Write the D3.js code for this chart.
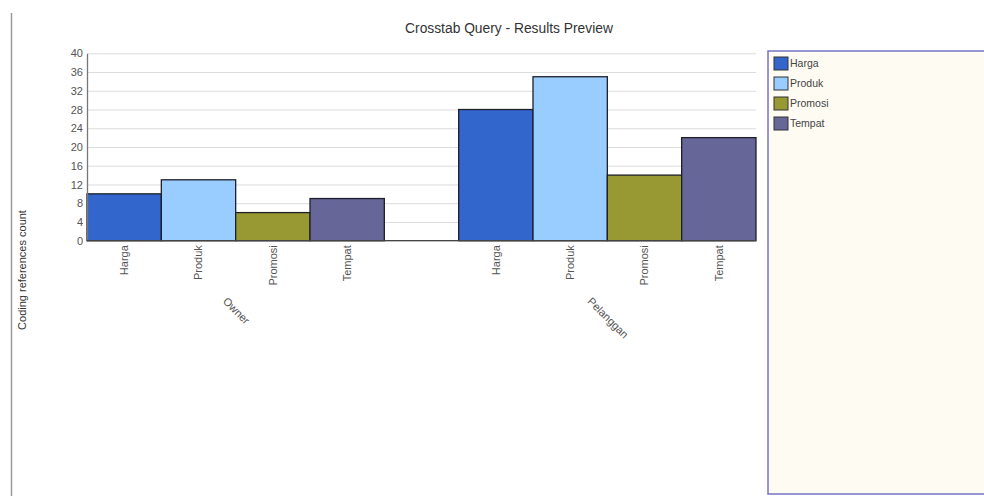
<!DOCTYPE html>
<html>
<head>
<meta charset="utf-8">
<script src="https://cdn.jsdelivr.net/npm/d3@7"></script>
<style>
  html, body { margin: 0; padding: 0; background: #fff; }
  svg { display: block; }
  text { font-family: "Liberation Sans", Arial, sans-serif; }
</style>
</head>
<body>
<svg id="chart" width="984" height="496"></svg>
<script>
// ---- data ----
const groups = ["Owner", "Pelanggan"];
const seriesNames = ["Harga", "Produk", "Promosi", "Tempat"];
const ownerValues = [10, 13, 6, 9];
const pelangganValues = [28, 35, 14, 22];
const yTicks = [0, 4, 8, 12, 16, 20, 24, 28, 32, 36, 40];
const seriesColors = ["#3366CC", "#99CCFF", "#999933", "#666699"];
const titleText = "Crosstab Query - Results Preview";
const yTitle = "Coding references count";

const valuesByGroup = { "Owner": ownerValues, "Pelanggan": pelangganValues };

// ---- layout ----
const svg = d3.select("#chart");
const W = 984, H = 496;
const plot = { left: 87, right: 756, top: 53.3, bottom: 240.7 };

const x0 = d3.scaleBand().domain(groups).range([plot.left, plot.right]).paddingInner(0.2).paddingOuter(0);
const x1 = d3.scaleBand().domain(seriesNames).range([0, x0.bandwidth()]).padding(0);
const y = d3.scaleLinear().domain([0, 40]).range([plot.bottom, plot.top]);
const color = d3.scaleOrdinal().domain(seriesNames).range(seriesColors);

// left frame line
svg.append("line")
  .attr("x1", 11.5).attr("x2", 11.5).attr("y1", 13).attr("y2", H)
  .attr("stroke", "#9a9a9a").attr("stroke-width", 1.5);

// legend box
svg.append("rect")
  .attr("x", 768).attr("y", 51).attr("width", 230).attr("height", 443)
  .attr("fill", "#FEFBF3").attr("stroke", "#7474C8").attr("stroke-width", 1.5);

// title
svg.append("text")
  .attr("x", 509).attr("y", 33)
  .attr("text-anchor", "middle")
  .attr("font-size", 13.8).attr("fill", "#333")
  .text(titleText);

// gridlines
const grid = svg.append("g")
  .attr("transform", `translate(${plot.left},0)`)
  .call(d3.axisLeft(y).tickValues(yTicks).tickSize(-(plot.right - plot.left)).tickFormat(""));
grid.select(".domain").remove();
grid.selectAll(".tick line").attr("stroke", "#dcdcdc").attr("stroke-width", 1);

// bars
const gBars = svg.append("g");
groups.forEach(gname => {
  const g = gBars.append("g").attr("transform", `translate(${x0(gname)},0)`);
  g.selectAll("rect")
    .data(seriesNames.map((s, i) => ({ s, v: valuesByGroup[gname][i] })))
    .join("rect")
    .attr("x", d => x1(d.s))
    .attr("y", d => y(d.v))
    .attr("width", x1.bandwidth())
    .attr("height", d => y(0) - y(d.v))
    .attr("fill", d => color(d.s))
    .attr("stroke", "#1f1f2a").attr("stroke-width", 1.3);
});

// y axis
const yAxis = svg.append("g")
  .attr("transform", `translate(${plot.left},0)`)
  .call(d3.axisLeft(y).tickValues(yTicks).tickSize(0).tickPadding(4));
yAxis.select(".domain").attr("stroke", "#777").attr("stroke-width", 1.3);
yAxis.selectAll("text").attr("font-size", 11).attr("fill", "#555")
  .style("font-family", "'Liberation Sans', Arial, sans-serif");

// x axis line
svg.append("line")
  .attr("x1", plot.left).attr("x2", plot.right)
  .attr("y1", plot.bottom).attr("y2", plot.bottom)
  .attr("stroke", "#444").attr("stroke-width", 1.3);

// series tick labels (rotated) per group
groups.forEach(gname => {
  const ax = svg.append("g")
    .attr("transform", `translate(${x0(gname)},${plot.bottom})`)
    .call(d3.axisBottom(x1).tickSize(0));
  ax.select(".domain").remove();
  ax.selectAll("text")
    .attr("transform", "rotate(-90)")
    .attr("text-anchor", "end")
    .attr("x", -4.5).attr("y", 0).attr("dy", "0.35em")
    .attr("font-size", 11).attr("fill", "#555")
    .style("font-family", "'Liberation Sans', Arial, sans-serif");
});

// group labels, rotated 45°
groups.forEach(gname => {
  const cx = x0(gname) + x0.bandwidth() / 2;
  const t = svg.append("text")
    .attr("font-size", 11).attr("fill", "#555")
    .attr("text-anchor", "start")
    .text(gname);
  const len = t.node().getComputedTextLength();
  const sx = cx - len * Math.SQRT1_2 / 2 - 2;
  const sy = 302 - len * 0 ;
  t.attr("transform", `translate(${sx},${sy}) rotate(45)`);
});

// y title
svg.append("text")
  .attr("transform", `translate(26,270) rotate(-90)`)
  .attr("text-anchor", "middle")
  .attr("font-size", 11).attr("fill", "#333")
  .text(yTitle);

// legend
const leg = svg.append("g").attr("transform", "translate(774,57)");
const items = leg.selectAll("g").data(seriesNames).join("g")
  .attr("transform", (d, i) => `translate(0,${i * 20})`);
items.append("rect")
  .attr("width", 14).attr("height", 13)
  .attr("fill", d => color(d)).attr("stroke", "#333").attr("stroke-width", 1);
items.append("text")
  .attr("x", 16).attr("y", 6.5).attr("dy", "0.35em")
  .attr("font-size", 10.5).attr("fill", "#444")
  .text(d => d);
</script>
</body>
</html>
